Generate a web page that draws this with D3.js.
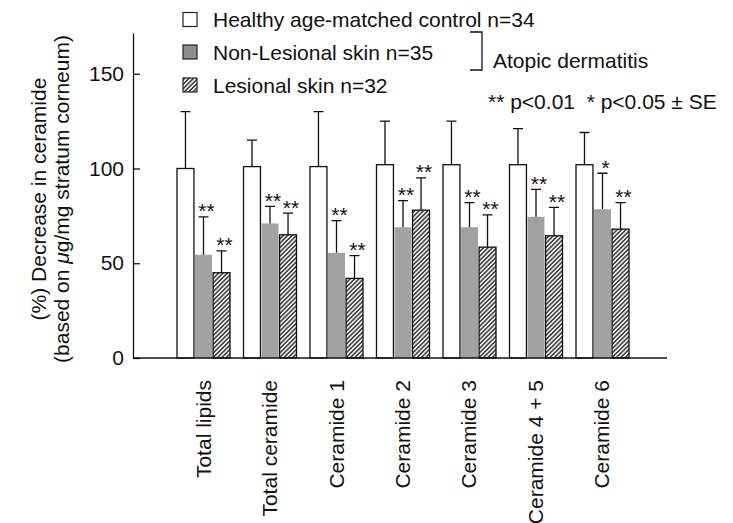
<!DOCTYPE html>
<html>
<head>
<meta charset="utf-8">
<script src="https://cdn.jsdelivr.net/npm/d3@7"></script>
<style>
    body { margin: 0; background: #fff; }
    svg { display: block; font-family: "Liberation Sans", Arial, sans-serif; }
</style>
</head>
<body>
<svg id="drawing_region"></svg>
<script>
const categories = ["Total lipids", "Total ceramide", "Ceramide 1", "Ceramide 2", "Ceramide 3", "Ceramide 4 + 5", "Ceramide 6"];
const seriesNames = ["Healthy age-matched control n=34", "Non-Lesional skin n=35", "Lesional skin n=32"];
const controlMean = [100, 101, 101, 102, 102, 102, 102];
const controlSE = [30, 14, 29, 23, 23, 19, 17];
const nonLesionalMean = [54.5, 71, 55.5, 69, 69, 74.5, 78.5];
const nonLesionalSE = [20, 9, 17, 14, 13, 14.5, 19];
const lesionalMean = [45, 65, 42, 78, 58.5, 64.5, 68];
const lesionalSE = [11.5, 11.5, 12, 17, 17, 15, 14];
const nonLesionalSig = ["**", "**", "**", "**", "**", "**", "*"];
const lesionalSig = ["**", "**", "**", "**", "**", "**", "**"];
const yTicks = [0, 50, 100, 150];

const data = categories.map((c, i) => ({
    category: c,
    bars: [
        { key: 0, mean: controlMean[i], se: controlSE[i], sig: "" },
        { key: 1, mean: nonLesionalMean[i], se: nonLesionalSE[i], sig: nonLesionalSig[i] },
        { key: 2, mean: lesionalMean[i], se: lesionalSE[i], sig: lesionalSig[i] },
    ]
}));

class GroupedBarChart {

    constructor( config, data ) {
        this.config = {
            parent: config.parent,
            width: config.width || 733,
            height: config.height || 523,
            margin: config.margin || {top:33, right:66, bottom:165, left:133},
        }
        this.data = data;
        this.init();
    }

    init() {
        let self = this;

        self.svg = d3.select( self.config.parent )
            .attr('width', self.config.width)
            .attr('height', self.config.height);

        self.inner_width = self.config.width - self.config.margin.left - self.config.margin.right;
        self.inner_height = self.config.height - self.config.margin.top - self.config.margin.bottom;

        // hatch for lesional skin
        const defs = self.svg.append('defs');
        defs.append('pattern')
            .attr('id', 'hatch')
            .attr('patternUnits', 'userSpaceOnUse')
            .attr('width', 3.1)
            .attr('height', 3.1)
            .attr('patternTransform', 'rotate(45)')
            .call(p => p.append('rect').attr('width', 3.1).attr('height', 3.1).attr('fill', '#eeeeee'))
            .append('line')
            .attr('x1', 0.8).attr('y1', 0).attr('x2', 0.8).attr('y2', 3.1)
            .attr('stroke', '#111')
            .attr('stroke-width', 1.2);

        self.fills = ['#ffffff', '#a2a2a2', 'url(#hatch)'];
        self.strokes = ['#111', 'none', '#111'];

        self.chart = self.svg.append('g')
            .attr('transform', `translate(${self.config.margin.left}, ${self.config.margin.top})`);

        self.xscale = d3.scaleBand()
            .domain(categories)
            .range([44, 496])
            .paddingInner(0.203)
            .paddingOuter(0);

        self.xsub = d3.scaleBand()
            .domain([0, 1, 2])
            .range([0, self.xscale.bandwidth()])
            .paddingInner(0.06);

        self.yscale = d3.scaleLinear()
            .domain([0, 171.5])
            .range([self.inner_height, 0]);

        self.yaxis = d3.axisLeft( self.yscale )
            .tickValues(yTicks)
            .tickSize(-7)
            .tickSizeOuter(0)
            .tickPadding(9);

        self.yaxis_group = self.chart.append('g');
    }

    update() {
        let self = this;
        self.render();
    }

    render() {
        let self = this;

        // bars
        const groups = self.chart.selectAll('.grp')
            .data(self.data)
            .join('g')
            .attr('class', 'grp')
            .attr('transform', d => `translate(${self.xscale(d.category)},0)`);

        groups.selectAll('rect')
            .data(d => d.bars)
            .join('rect')
            .attr('x', d => self.xsub(d.key))
            .attr('y', d => self.yscale(d.mean))
            .attr('width', self.xsub.bandwidth())
            .attr('height', d => self.inner_height - self.yscale(d.mean))
            .attr('fill', d => self.fills[d.key])
            .attr('stroke', d => self.strokes[d.key])
            .attr('stroke-width', 1.3);

        // error bars (upper only)
        const cx = d => self.xsub(d.key) + self.xsub.bandwidth() / 2;
        groups.selectAll('.err')
            .data(d => d.bars)
            .join('path')
            .attr('class', 'err')
            .attr('d', d => {
                const top = self.yscale(d.mean + d.se);
                return `M${cx(d)},${self.yscale(d.mean)}V${top}M${cx(d) - 5},${top}H${cx(d) + 5}`;
            })
            .attr('fill', 'none')
            .attr('stroke', '#111')
            .attr('stroke-width', 1.3);

        groups.selectAll('.sig')
            .data(d => d.bars.filter(b => b.sig))
            .join('text')
            .attr('class', 'sig')
            .attr('x', d => cx(d) + 3)
            .attr('y', d => self.yscale(d.mean + d.se) + 1.5)
            .attr('text-anchor', 'middle')
            .style('font-size', '21px')
            .style('fill', '#111')
            .text(d => d.sig);

        // baseline
        self.chart.append('line')
            .attr('x1', 0).attr('x2', 534)
            .attr('y1', self.inner_height).attr('y2', self.inner_height)
            .attr('stroke', '#111')
            .attr('stroke-width', 1.3);

        // y axis
        self.yaxis_group.call(self.yaxis);
        self.yaxis_group.select('.domain').attr('stroke', '#111').attr('stroke-width', 1.3);
        self.yaxis_group.selectAll('.tick line').attr('stroke', '#111').attr('stroke-width', 1.3);
        self.yaxis_group.selectAll('.tick text')
            .style('font-size', '21px')
            .style('font-family', '"Liberation Sans", Arial, sans-serif')
            .style('fill', '#111');

        // category labels
        self.chart.selectAll('.cat')
            .data(categories)
            .join('text')
            .attr('class', 'cat')
            .attr('transform', d => `translate(${self.xscale(d) + self.xscale.bandwidth() / 2 + 7}, ${self.inner_height + 22}) rotate(-90)`)
            .attr('text-anchor', 'end')
            .style('font-size', '21px')
            .style('fill', '#111')
            .text(d => d);

        // y title
        const ytitle = self.svg.append('text')
            .attr('transform', 'translate(0, 199) rotate(-90)')
            .attr('text-anchor', 'middle')
            .style('font-size', '21px')
            .style('fill', '#111');
        ytitle.append('tspan').attr('x', 0).attr('y', 46).text('(%) Decrease in ceramide');
        const l2 = ytitle.append('tspan').attr('x', 0).attr('y', 69);
        l2.append('tspan').text('(based on ');
        l2.append('tspan').style('font-style', 'italic').text('\u03bc');
        l2.append('tspan').text('g/mg stratum corneum)');

        // legend
        const legend = self.svg.append('g').attr('transform', 'translate(183, 0)');
        const rowY = [19.5, 52, 85];
        const legendFills = ['#ffffff', '#8f8f8f', 'url(#hatch)'];
        legend.selectAll('rect')
            .data(seriesNames)
            .join('rect')
            .attr('x', 0)
            .attr('y', (d, i) => rowY[i] - 7)
            .attr('width', 14)
            .attr('height', 14)
            .attr('fill', (d, i) => legendFills[i])
            .attr('stroke', '#222')
            .attr('stroke-width', 1.2);
        legend.selectAll('text')
            .data(seriesNames)
            .join('text')
            .attr('x', 30)
            .attr('y', (d, i) => rowY[i] + 7.5)
            .style('font-size', '21px')
            .style('fill', '#111')
            .text(d => d);

        self.svg.append('path')
            .attr('d', 'M470,32H482V70H470')
            .attr('fill', 'none')
            .attr('stroke', '#111')
            .attr('stroke-width', 1.3);

        self.svg.append('text')
            .attr('x', 493).attr('y', 68)
            .style('font-size', '21px')
            .style('fill', '#111')
            .text('Atopic dermatitis');

        self.svg.append('text')
            .attr('x', 488).attr('y', 109)
            .style('font-size', '21px')
            .style('white-space', 'pre')
            .style('fill', '#111')
            .text('** p<0.01  * p<0.05 \u00b1 SE');
    }
}

const chart = new GroupedBarChart({ parent: '#drawing_region', width: 733, height: 523 }, data);
chart.update();
</script>
</body>
</html>
